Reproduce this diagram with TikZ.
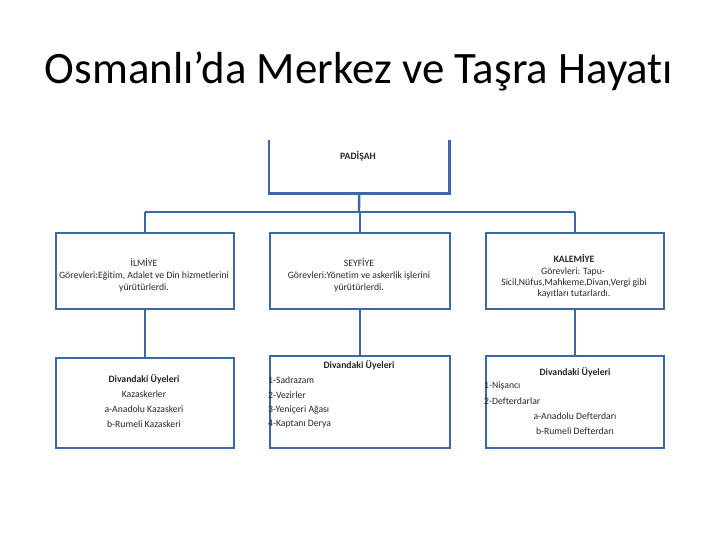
\documentclass[tikz,border=0pt]{standalone}
\usepackage{fontspec}
\setmainfont{Carlito}[Ligatures=NoCommon]
\definecolor{lineblue}{HTML}{3E68A4}
\definecolor{txt}{HTML}{262626}
\begin{document}
\begin{tikzpicture}[x=1pt,y=-1pt,
  box/.style={draw=lineblue, line width=2.4pt, inner sep=0pt, anchor=north west},
  conn/.style={draw=lineblue, line width=2.4pt},
  t/.style={font=\fontsize{9.7}{11}\selectfont, text=txt, inner sep=0pt},
  tb/.style={t, font=\fontsize{9.7}{11}\selectfont\bfseries},
  tl/.style={t, anchor=west}]
\useasboundingbox (0,0) rectangle (720,540);
\node[font=\fontsize{44.9}{50}\selectfont, text=black] (title) at (359,71) {Osmanlı’da Merkez ve Taşra Hayatı};
% boxes
\node[inner sep=0pt, anchor=north west, minimum width=180pt, minimum height=53pt] (pad) at (269,140) {};
\draw[conn] (pad.north west) -- (pad.south west) -- (pad.south east) -- (pad.north east);
\node[box, minimum width=178pt, minimum height=76pt] (il) at (55,232) {};
\node[box, minimum width=180pt, minimum height=76pt] (se) at (269,232) {};
\node[box, minimum width=178pt, minimum height=76pt] (ka) at (485,232) {};
\node[box, minimum width=178pt, minimum height=90pt] (il3) at (55,357) {};
\node[box, minimum width=180pt, minimum height=92pt] (se3) at (269,355) {};
\node[box, minimum width=178pt, minimum height=92pt] (ka3) at (485,355) {};
% connectors
\coordinate (bar) at (359,212);
\draw[conn] (pad.south) -- (bar);
\draw[conn] (il.north |- bar) -- (ka.north |- bar);
\draw[conn] (il.north |- bar) -- (il.north);
\draw[conn] (se.north |- bar) -- (se.north);
\draw[conn] (ka.north |- bar) -- (ka.north);
\draw[conn] (il.south) -- (il3.north);
\draw[conn] (se.south) -- (se3.north);
\draw[conn] (ka.south) -- (ka3.north);
% texts
\node[tb] (padt) at (358,156) {PADİŞAH};
\node[t] (il1) at (144,263) {İLMİYE};
\node[t] (il2) at (144,276) {Görevleri:Eğitim, Adalet ve Din hizmetlerini};
\node[t] (il3t) at (144,288) {yürütürlerdi.};
\node[t] (se1) at (359,263) {SEYFİYE};
\node[t] (se2) at (359,276) {Görevleri:Yönetim ve askerlik işlerini};
\node[t] (se3t) at (359,288) {yürütürlerdi.};
\node[tb] (ka1) at (574,258) {KALEMİYE};
\node[t] (ka2) at (573,272) {Görevleri: Tapu-};
\node[t] (ka3t) at (574,283) {Sicil,Nüfus,Mahkeme,Divan,Vergi gibi};
\node[t] (ka4) at (574,294) {kayıtları tutarlardı.};
\node[tb] (d1) at (144,379) {Divandaki Üyeleri};
\node[t] (d1a) at (144,394) {Kazaskerler};
\node[t] (d1b) at (144,409) {a-Anadolu Kazaskeri};
\node[t] (d1c) at (144,424) {b-Rumeli Kazaskeri};
\node[tb] (d2) at (359,365) {Divandaki Üyeleri};
\node[tl] (d2a) at (268,380) {1-Sadrazam};
\node[tl] (d2b) at (268,395) {2-Vezirler};
\node[tl] (d2c) at (268,410) {3-Yeniçeri Ağası};
\node[tl] (d2d) at (268,424) {4-Kaptanı Derya};
\node[tb] (d3) at (575,372) {Divandaki Üyeleri};
\node[tl] (d3a) at (484,386) {1-Nişancı};
\node[tl] (d3b) at (484,401) {2-Defterdarlar};
\node[t] (d3c) at (575,416) {a-Anadolu Defterdarı};
\node[t] (d3d) at (575,431) {b-Rumeli Defterdarı};
\end{tikzpicture}
\end{document}
